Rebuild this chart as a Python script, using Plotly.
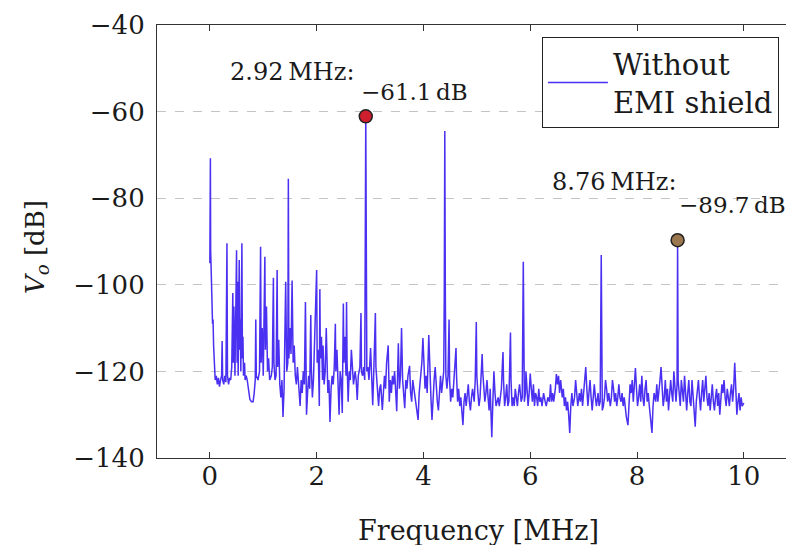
import plotly.graph_objects as go

# ---- data ----
freq_mhz = [
    0.0, 0.005, 0.01, 0.015, 0.02, 0.03, 0.04, 0.05, 0.06, 0.07, 0.08, 0.09, 0.1,
    0.12, 0.14, 0.16, 0.18, 0.2, 0.22, 0.23, 0.24, 0.26, 0.28, 0.3, 0.32, 0.33, 0.35, 0.37, 0.39,
    0.41, 0.43, 0.44, 0.45, 0.47, 0.48, 0.5, 0.51, 0.52, 0.53, 0.55, 0.56, 0.57, 0.58, 0.6, 0.61,
    0.62, 0.63, 0.65, 0.66, 0.68, 0.7, 0.72, 0.75, 0.78, 0.81, 0.83, 0.85,
    0.86, 0.87, 0.9, 0.93, 0.95, 0.96, 0.98, 1.0, 1.03, 1.04, 1.06, 1.08, 1.1, 1.12, 1.15, 1.17,
    1.19, 1.2, 1.22, 1.24, 1.26, 1.27, 1.29, 1.31, 1.33, 1.35, 1.37, 1.39, 1.42, 1.44, 1.46, 1.47,
    1.48, 1.5, 1.52, 1.54, 1.56, 1.58, 1.6, 1.62,
    1.64, 1.66, 1.69, 1.71, 1.73, 1.75, 1.77, 1.79, 1.8, 1.81, 1.83, 1.85, 1.87, 1.89, 1.9, 1.92,
    1.94, 1.96, 1.98, 2.0, 2.01, 2.03, 2.05, 2.06, 2.07, 2.09, 2.11, 2.12, 2.14, 2.16, 2.18, 2.19,
    2.21, 2.23, 2.25, 2.27, 2.29, 2.31, 2.33, 2.35, 2.36, 2.38, 2.4, 2.42, 2.44, 2.46, 2.48, 2.5,
    2.51, 2.53, 2.55, 2.56, 2.57, 2.59, 2.61, 2.63, 2.65, 2.67, 2.69, 2.72, 2.74, 2.76, 2.78, 2.81,
    2.83, 2.84, 2.86, 2.88, 2.9, 2.92, 2.94, 2.96, 2.98, 3.01, 3.03, 3.05, 3.07, 3.1, 3.11, 3.13,
    3.16, 3.18, 3.2, 3.23, 3.25, 3.27, 3.29, 3.31, 3.34, 3.36, 3.38, 3.4, 3.42, 3.44, 3.46, 3.48,
    3.5, 3.53, 3.55, 3.57, 3.59, 3.61, 3.63, 3.65, 3.67, 3.69, 3.71, 3.74, 3.76, 3.78, 3.8, 3.82,
    3.84, 3.87, 3.9, 3.92, 3.95, 3.97, 3.99, 4.01, 4.03, 4.05, 4.07, 4.1, 4.12, 4.14, 4.16, 4.18,
    4.2, 4.22, 4.24, 4.26, 4.28, 4.3, 4.32, 4.34, 4.36, 4.38, 4.39, 4.4, 4.41, 4.42, 4.44, 4.46,
    4.48, 4.49, 4.51, 4.53, 4.55, 4.57, 4.59, 4.61, 4.62, 4.64, 4.66, 4.68, 4.7, 4.72, 4.74, 4.76,
    4.78, 4.8, 4.82, 4.84, 4.86, 4.88, 4.9, 4.92, 4.95, 4.97, 4.99, 5.0, 5.02, 5.04, 5.06, 5.08,
    5.1, 5.11, 5.13, 5.15, 5.17, 5.19, 5.21, 5.23, 5.25, 5.28, 5.3, 5.32, 5.34, 5.36, 5.38, 5.4,
    5.42, 5.44, 5.46, 5.48, 5.49, 5.5, 5.52, 5.54, 5.56, 5.58, 5.6, 5.63, 5.64, 5.66, 5.68, 5.7,
    5.72, 5.74, 5.76, 5.78, 5.8, 5.83, 5.85, 5.87, 5.89, 5.91, 5.92, 5.94, 5.96, 5.98, 6.0, 6.02,
    6.04, 6.06, 6.08, 6.1, 6.12, 6.14, 6.16, 6.18, 6.2, 6.22, 6.25, 6.28, 6.3, 6.33, 6.36, 6.38,
    6.4, 6.42, 6.44, 6.47, 6.49, 6.51, 6.53, 6.55, 6.57, 6.6, 6.62, 6.64, 6.66, 6.68, 6.7, 6.72,
    6.74, 6.76, 6.78, 6.8, 6.83, 6.85, 6.87, 6.89, 6.92, 6.94, 6.96, 6.98, 7.0, 7.02, 7.04, 7.06,
    7.08, 7.1, 7.12, 7.14, 7.16, 7.18, 7.2, 7.22, 7.24, 7.27, 7.29, 7.31, 7.33, 7.35, 7.37, 7.39,
    7.41, 7.43, 7.45, 7.47, 7.5, 7.52, 7.54, 7.56, 7.58, 7.6, 7.62, 7.64, 7.66, 7.68, 7.7, 7.72,
    7.74, 7.76, 7.78, 7.8, 7.83, 7.85, 7.87, 7.89, 7.91, 7.93, 7.95, 7.97, 7.99, 8.01, 8.03, 8.05,
    8.07, 8.09, 8.11, 8.13, 8.15, 8.17, 8.19, 8.21, 8.23, 8.25, 8.28, 8.3, 8.32, 8.35, 8.37, 8.39,
    8.41, 8.43, 8.45, 8.47, 8.49, 8.51, 8.53, 8.55, 8.57, 8.59, 8.61, 8.63, 8.65, 8.67, 8.69, 8.71,
    8.73, 8.75, 8.76, 8.77, 8.79, 8.81, 8.83, 8.85, 8.87, 8.89, 8.91, 8.93, 8.95, 8.97, 8.99, 9.01,
    9.03, 9.05, 9.07, 9.09, 9.11, 9.13, 9.15, 9.17, 9.19, 9.21, 9.23, 9.25, 9.27, 9.29, 9.31, 9.33,
    9.35, 9.37, 9.39, 9.41, 9.43, 9.45, 9.47, 9.49, 9.51, 9.53, 9.55, 9.57, 9.59, 9.61, 9.63, 9.65,
    9.67, 9.69, 9.71, 9.73, 9.75, 9.77, 9.79, 9.81, 9.83, 9.85, 9.87, 9.89, 9.91, 9.93, 9.95, 9.97,
    10.0,
]
vo_db = [
    -95, -88, -70.8, -92, -97, -101, -104, -109, -108, -114, -116, -120, -122,
    -121, -123, -121.5, -123.5, -122, -121, -113, -122, -123, -121, -122.5, -90.4, -121, -123, -121.5, -122,
    -119, -101.9, -118, -105, -121, -110, -92, -118, -99.3, -121, -94.3, -115, -108, -120, -90.4, -117,
    -112, -121, -118, -122, -121, -122, -123.5, -126.5, -127, -127, -125, -122,
    -108, -121, -122, -120, -91.2, -118, -110, -121, -93.5, -115, -105, -120, -117, -122, -121, -119,
    -98.4, -118, -122, -121, -96.6, -119, -112.7, -123, -126, -122, -130.5, -124, -99.3, -120, -118, -75.5,
    -117, -110, -116, -99, -118, -114, -121, -123,
    -119, -124, -128, -122, -125, -120, -123, -104, -120, -130, -125, -121, -124, -107, -119, -126,
    -122, -113, -110, -96.6, -118, -115, -128, -101, -117, -112, -122, -114, -123, -120, -110, -119,
    -125, -122, -131.7, -124, -121, -123, -119, -109, -120, -115, -122, -130, -120, -122, -129.6, -104.3,
    -118, -112, -121, -104, -118, -127, -120, -122, -115, -121, -123, -120, -122, -126.6, -121, -119,
    -106.5, -120, -121, -119, -122, -61.1, -120, -119, -122, -114.6, -121, -127.8, -120, -106.5, -119, -124,
    -128, -124, -123, -128.9, -125, -121, -124, -118, -114, -127, -122, -125, -121, -123, -120, -124,
    -129.2, -113.5, -124, -121, -110, -122, -125, -128.5, -122, -124, -121, -118.7, -125, -127, -122, -124,
    -126, -128, -131.2, -125, -121, -118, -112.3, -120, -124, -121, -125, -111.6, -122, -126, -131.2, -125,
    -122, -119, -124, -127, -129, -124, -121, -125, -122, -120, -103, -64.5, -102, -121, -124, -121,
    -108, -122, -127, -124, -126, -122, -119, -114.6, -121, -127, -124, -128, -126, -129, -132.4, -127,
    -125, -128, -125, -123, -127, -129, -126, -124, -127, -122, -108.6, -121, -125, -128, -126, -122,
    -116, -120, -124, -127, -125, -122, -126, -129, -124, -135.2, -127, -120, -125, -128, -127, -126,
    -128, -126, -124, -118, -115.5, -122, -128, -126, -123, -128, -127, -111, -122, -128, -126, -128,
    -124, -126, -128, -125, -123, -127, -126, -94.7, -127, -125, -120, -124, -128, -125, -120.5, -124,
    -127, -123, -128, -125, -126, -128, -124, -127, -126, -128, -125, -127, -128, -126, -127, -123,
    -127, -125, -127, -124, -120.6, -123, -121, -125, -122, -126, -124, -128, -126, -129, -127, -130,
    -134.2, -128, -125, -128, -126, -122, -126, -128, -125, -127, -124, -128, -125, -122, -119, -124,
    -128, -125, -122, -126, -129, -126, -123, -126, -128, -125, -128, -127, -93.1, -129, -128, -126,
    -122, -124, -127, -125, -128, -126, -122, -124, -127, -125, -128, -126, -123, -126, -127, -125,
    -128, -126, -129, -130.5, -132.4, -127, -123, -125, -122, -127, -124, -119.2, -124, -128, -126, -123,
    -127, -121, -126, -128, -124, -122, -127, -125, -128, -130, -134.2, -128, -125, -127, -123, -127,
    -125, -122, -119, -124, -128, -126, -122, -127, -124, -129, -126, -122, -125, -127, -120, -125,
    -127, -123, -89.7, -122, -126, -128, -122, -125, -127, -121, -126, -129, -125, -122, -127, -128,
    -122, -126, -129, -132.8, -127, -124, -122, -126, -129, -125, -122, -127, -124, -121, -126, -128,
    -125, -129, -126, -123, -127, -129, -126, -124, -128, -125, -130, -127, -123, -125, -122, -126,
    -128, -124, -126, -128, -125, -123, -127, -124, -118, -126, -130, -127, -125, -129, -126, -128,
    -127.3,
]

peak_freq = [2.92, 8.76]
peak_db = [-61.1, -89.7]
peak_colors = ["#cf1f2e", "#9b7750"]
peak_label_mhz = ["2.92\u2009MHz:", "8.76\u2009MHz:"]
peak_label_db = ["\u221261.1\u2009dB", "\u221289.7\u2009dB"]

y_ticks = [-140, -120, -100, -80, -60, -40]
x_ticks = [0, 2, 4, 6, 8, 10]

FONT = "DejaVu Serif"
TXT = "#1a1a1a"
LINE = "#4a30f0"

fig = go.Figure()
fig.add_trace(go.Scatter(
    x=freq_mhz, y=vo_db, mode="lines",
    line=dict(color=LINE, width=1.5),
    name="Without<br>EMI shield",
))
for f, v, c in zip(peak_freq, peak_db, peak_colors):
    fig.add_trace(go.Scatter(
        x=[f], y=[v], mode="markers", showlegend=False,
        marker=dict(size=13, color=c, line=dict(color="#222222", width=1.5)),
    ))

# peak labels
ann = []
label_pos = [  # (mhz_x, mhz_y, db_x, db_y)
    (2.73, -50.9, 2.8, -55.5),
    (8.76, -76.3, 8.75, -81.6),
]
for (mx, my, dx, dy), t1, t2 in zip(label_pos, peak_label_mhz, peak_label_db):
    ann.append(dict(x=mx, y=my, xref="x", yref="y", text=t1, showarrow=False,
                    xanchor="right", yanchor="middle", font=dict(family=FONT, size=24, color=TXT)))
    ann.append(dict(x=dx, y=dy, xref="x", yref="y", text=t2, showarrow=False,
                    xanchor="left", yanchor="middle", font=dict(family=FONT, size=23, color=TXT)))
ann.append(dict(x=0.504, y=-0.128, xref="paper", yref="paper", text="Frequency [MHz]",
                showarrow=False, xanchor="center", yanchor="top",
                font=dict(family=FONT, size=27, color=TXT)))
ann.append(dict(x=-0.19, y=0.487, xref="paper", yref="paper",
                text="<i>V</i><sub><i>o</i></sub> [dB]", textangle=-90,
                showarrow=False, xanchor="center", yanchor="middle",
                font=dict(family=FONT, size=26, color=TXT)))

# the page adds an 8 px body margin; margins compensate so the plot box sits at
# x 157..794, y 25..458 in the final picture
fig.update_layout(
    width=794, height=545,
    margin=dict(l=149, r=8, t=17, b=95),
    paper_bgcolor="white", plot_bgcolor="white",
    font=dict(family=FONT, size=25, color=TXT),
    annotations=ann,
    showlegend=True,
    legend=dict(x=0.976, y=0.972, xanchor="right", yanchor="top",
                bordercolor="#222222", borderwidth=1.2, bgcolor="white",
                font=dict(family=FONT, size=29, color=TXT),
                itemwidth=60, tracegroupgap=0),
    xaxis=dict(range=[-0.99, 10.94], tickvals=x_ticks, ticks="inside", ticklen=6,
               tickcolor="#333333", showline=True, linecolor="#333333", linewidth=1.2,
               mirror="ticks", showgrid=False, zeroline=False, automargin=False,
               tickfont=dict(family=FONT, size=26, color=TXT), ticklabelstandoff=-5),
    yaxis=dict(range=[-140, -40], tickvals=y_ticks, ticks="", showline=True,
               linecolor="#333333", linewidth=1.2, showgrid=True, gridcolor="#c4c4c4",
               griddash="dash", gridwidth=1, zeroline=False, automargin=False,
               tickfont=dict(family=FONT, size=26, color=TXT), ticklabelstandoff=6),
)

fig.write_html("out.html")
